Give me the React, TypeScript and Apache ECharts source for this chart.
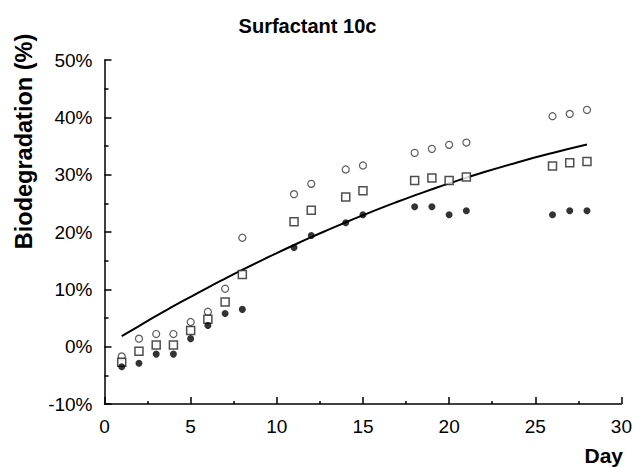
import React, { useEffect, useRef } from "react";
import * as echarts from "echarts";

const days = [1, 2, 3, 4, 5, 6, 7, 8, 11, 12, 14, 15, 18, 19, 20, 21, 26, 27, 28];
const openCircle = [-1.7, 1.4, 2.2, 2.2, 4.3, 6.1, 10.1, 19.0, 26.6, 28.4, 30.9, 31.6, 33.8, 34.5, 35.2, 35.6, 40.2, 40.6, 41.3];
const squares = [-2.7, -0.8, 0.3, 0.3, 2.8, 4.8, 7.8, 12.6, 21.8, 23.8, 26.1, 27.2, 29.0, 29.4, 29.0, 29.6, 31.5, 32.1, 32.3];
const filled = [-3.5, -2.9, -1.3, -1.3, 1.4, 3.7, 5.8, 6.5, 17.3, 19.4, 21.6, 23.0, 24.4, 24.4, 23.0, 23.7, 23.0, 23.7, 23.7];
const fitDays = [1, 2, 3, 4, 5, 6, 7, 8, 9, 10, 11, 12, 13, 14, 15, 16, 17, 18, 19, 20, 22, 24, 26, 28];
const fitValues = [1.85, 3.6, 5.36, 7.05, 8.7, 10.31, 11.87, 13.4, 14.89, 16.33, 17.73, 19.1, 20.41, 21.69, 22.92, 24.12, 25.27, 26.38, 27.45, 28.48, 30.41, 32.18, 33.78, 35.25];

const title = "Surfactant 10c";
const yTitle = "Biodegradation (%)";
const xTitle = "Day";

const FONT = "'Liberation Sans', Arial, sans-serif";

export default function App() {
  const ref = useRef<HTMLDivElement>(null);
  useEffect(() => {
    if (!ref.current) return;
    const chart = echarts.init(ref.current, null, { renderer: "svg" });
    const pair = (vals: number[]) => days.map((d, i) => [d, vals[i]]);
    chart.setOption({
      animation: false,
      backgroundColor: "#fff",
      grid: { left: 104.5, right: 13.5, top: 60, bottom: 63, containLabel: false },
      graphic: [
        {
          type: "text",
          x: 307.5,
          y: 26,
          style: {
            text: title,
            fontFamily: FONT,
            fontSize: 20,
            fontWeight: "bold",
            fill: "#000",
            align: "center",
            verticalAlign: "middle",
          },
        },
        {
          type: "text",
          x: 24,
          y: 141.5,
          rotation: Math.PI / 2,
          style: {
            text: yTitle,
            fontFamily: FONT,
            fontSize: 23.5,
            fontWeight: "bold",
            fill: "#000",
            align: "center",
            verticalAlign: "middle",
          },
        },
        {
          type: "text",
          x: 623,
          y: 455,
          style: {
            text: xTitle,
            fontFamily: FONT,
            fontSize: 21,
            fontWeight: "bold",
            fill: "#000",
            align: "right",
            verticalAlign: "middle",
          },
        },
      ],
      xAxis: {
        type: "value",
        min: 0,
        max: 30,
        interval: 5,
        axisLine: { show: true, onZero: false, lineStyle: { color: "#000", width: 1.5 } },
        axisTick: { show: true, inside: true, length: 7, lineStyle: { color: "#000", width: 1.5 } },
        minorTick: { show: true, splitNumber: 2, length: 3, lineStyle: { color: "#000", width: 1.5 } },
        splitLine: { show: false },
        axisLabel: { fontFamily: FONT, fontSize: 19, color: "#000", margin: 13 },
      },
      yAxis: {
        type: "value",
        min: -10,
        max: 50,
        interval: 10,
        axisLine: { show: true, onZero: false, lineStyle: { color: "#000", width: 1.5 } },
        axisTick: { show: true, inside: true, length: 7, lineStyle: { color: "#000", width: 1.5 } },
        minorTick: { show: true, splitNumber: 2, length: 4, lineStyle: { color: "#000", width: 1.5 } },
        splitLine: { show: false },
        axisLabel: { fontFamily: FONT, fontSize: 19, color: "#000", margin: 12, formatter: "{value}%" },
      },
      series: [
        {
          type: "line",
          data: fitDays.map((d, i) => [d, fitValues[i]]),
          smooth: true,
          showSymbol: false,
          symbol: "none",
          lineStyle: { color: "#000", width: 2 },
          z: 1,
        },
        {
          type: "scatter",
          data: pair(openCircle),
          symbol: "circle",
          symbolSize: 7,
          itemStyle: { color: "#fff", borderColor: "#333", borderWidth: 1.2 },
          z: 3,
        },
        {
          type: "scatter",
          data: pair(squares),
          symbol: "rect",
          symbolSize: 8,
          itemStyle: { color: "#fff", borderColor: "#222", borderWidth: 1.5 },
          z: 3,
        },
        {
          type: "scatter",
          data: pair(filled),
          symbol: "circle",
          symbolSize: 7,
          itemStyle: { color: "#000", borderWidth: 0 },
          z: 3,
        },
      ],
    });
    return () => chart.dispose();
  }, []);
  return <div ref={ref} style={{ width: 635, height: 467, position: "absolute", left: 0, top: 0 }} />;
}
